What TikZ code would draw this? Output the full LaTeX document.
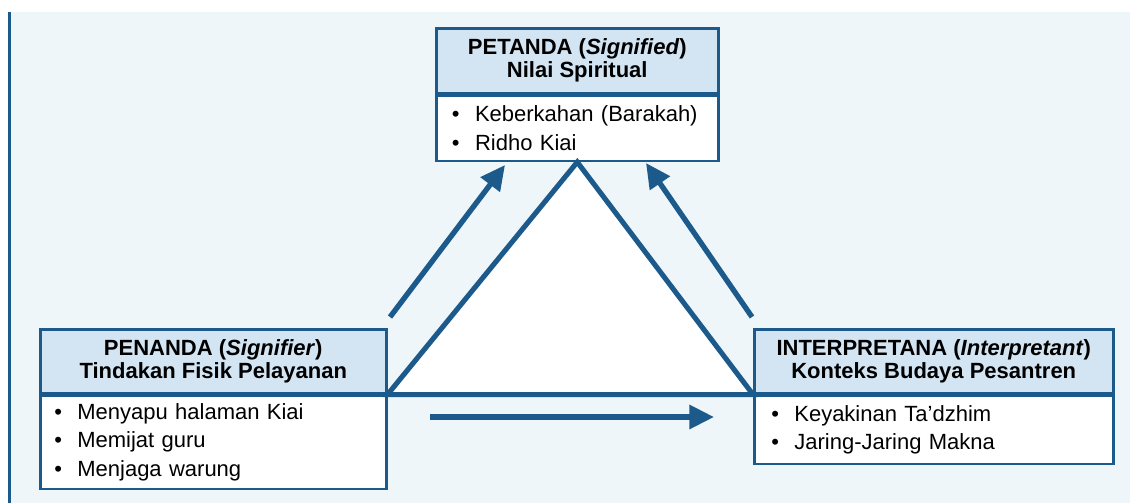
\documentclass[tikz,border=0pt]{standalone}
\usepackage{fontspec}
\setmainfont{Liberation Sans}
\usetikzlibrary{arrows.meta}
\definecolor{semblue}{HTML}{1D5A8C}
\definecolor{headblue}{HTML}{D3E5F3}
\definecolor{paleblue}{HTML}{EEF6FA}
\newcommand{\itm}{\makebox[1.05em][l]{\textbullet}}
\tikzset{
  headbox/.style={draw=semblue, line width=1.9pt, fill=headblue, inner sep=0pt,
    align=center, anchor=north west, text=black,
    font=\fontsize{16.5}{17.25}\selectfont\bfseries},
  listbox/.style={draw=semblue, line width=1.9pt, fill=white, inner ysep=0pt,
    align=left, anchor=north, text=black,
    font=\fontsize{16.5}{21.4}\selectfont},
  flow/.style={draw=semblue, line width=4pt, -{Triangle[length=18.5pt,width=17.5pt]}}
}
\begin{document}
\begin{tikzpicture}[x=0.75pt, y=-0.75pt]
				\useasboundingbox (0,0) rectangle (1130,503);
				\fill[white] (0,0) rectangle (1130,503);
				\fill[paleblue] (10,12) rectangle (1130,503);
				\draw[semblue, line width=2.2pt] (9.5,12) -- (9.5,503);
				% the three corners
				\node[headbox, minimum width=211.5pt, minimum height=48.75pt] (petH) at (435,27)
					{PETANDA (\textit{Signified})\\Nilai Spiritual};
				\node[listbox, text width=188pt, inner xsep=11.75pt, minimum height=48.75pt] (petB) at (petH.south)
					{\itm Keberkahan (Barakah)\\\itm Ridho Kiai};
				\node[headbox, minimum width=259.5pt, minimum height=48pt] (penH) at (39,328)
					{PENANDA (\textit{Signifier})\\Tindakan Fisik Pelayanan};
				\node[listbox, text width=238.5pt, inner xsep=10.5pt, minimum height=69.75pt] (penB) at (penH.south)
					{\itm Menyapu halaman Kiai\\\itm Memijat guru\\\itm Menjaga warung};
				\node[headbox, minimum width=269.25pt, minimum height=48pt] (intH) at (753,328)
					{INTERPRETANA (\textit{Interpretant})\\Konteks Budaya Pesantren};
				\node[listbox, text width=243.75pt, inner xsep=12.75pt, minimum height=51pt] (intB) at (intH.south)
					{\itm Keyakinan Ta’dzhim\\\itm Jaring-Jaring Makna};
				% triangle
				\draw[semblue, line width=3.8pt, fill=white] (petB.south) -- (penH.south east) -- (intH.south west) -- cycle;
				% arrows
				\coordinate (upL0) at (390,317);
				\coordinate (upL1) at (505,165);
				\coordinate (upR0) at (752,317);
				\coordinate (upR1) at (646,163);
				\coordinate (fwd0) at (430,417);
				\coordinate (fwd1) at (714,417);
				\draw[flow] (upL0) -- (upL1);
				\draw[flow] (upR0) -- (upR1);
				\draw[flow] (fwd0) -- (fwd1);
			\end{tikzpicture}
\end{document}
